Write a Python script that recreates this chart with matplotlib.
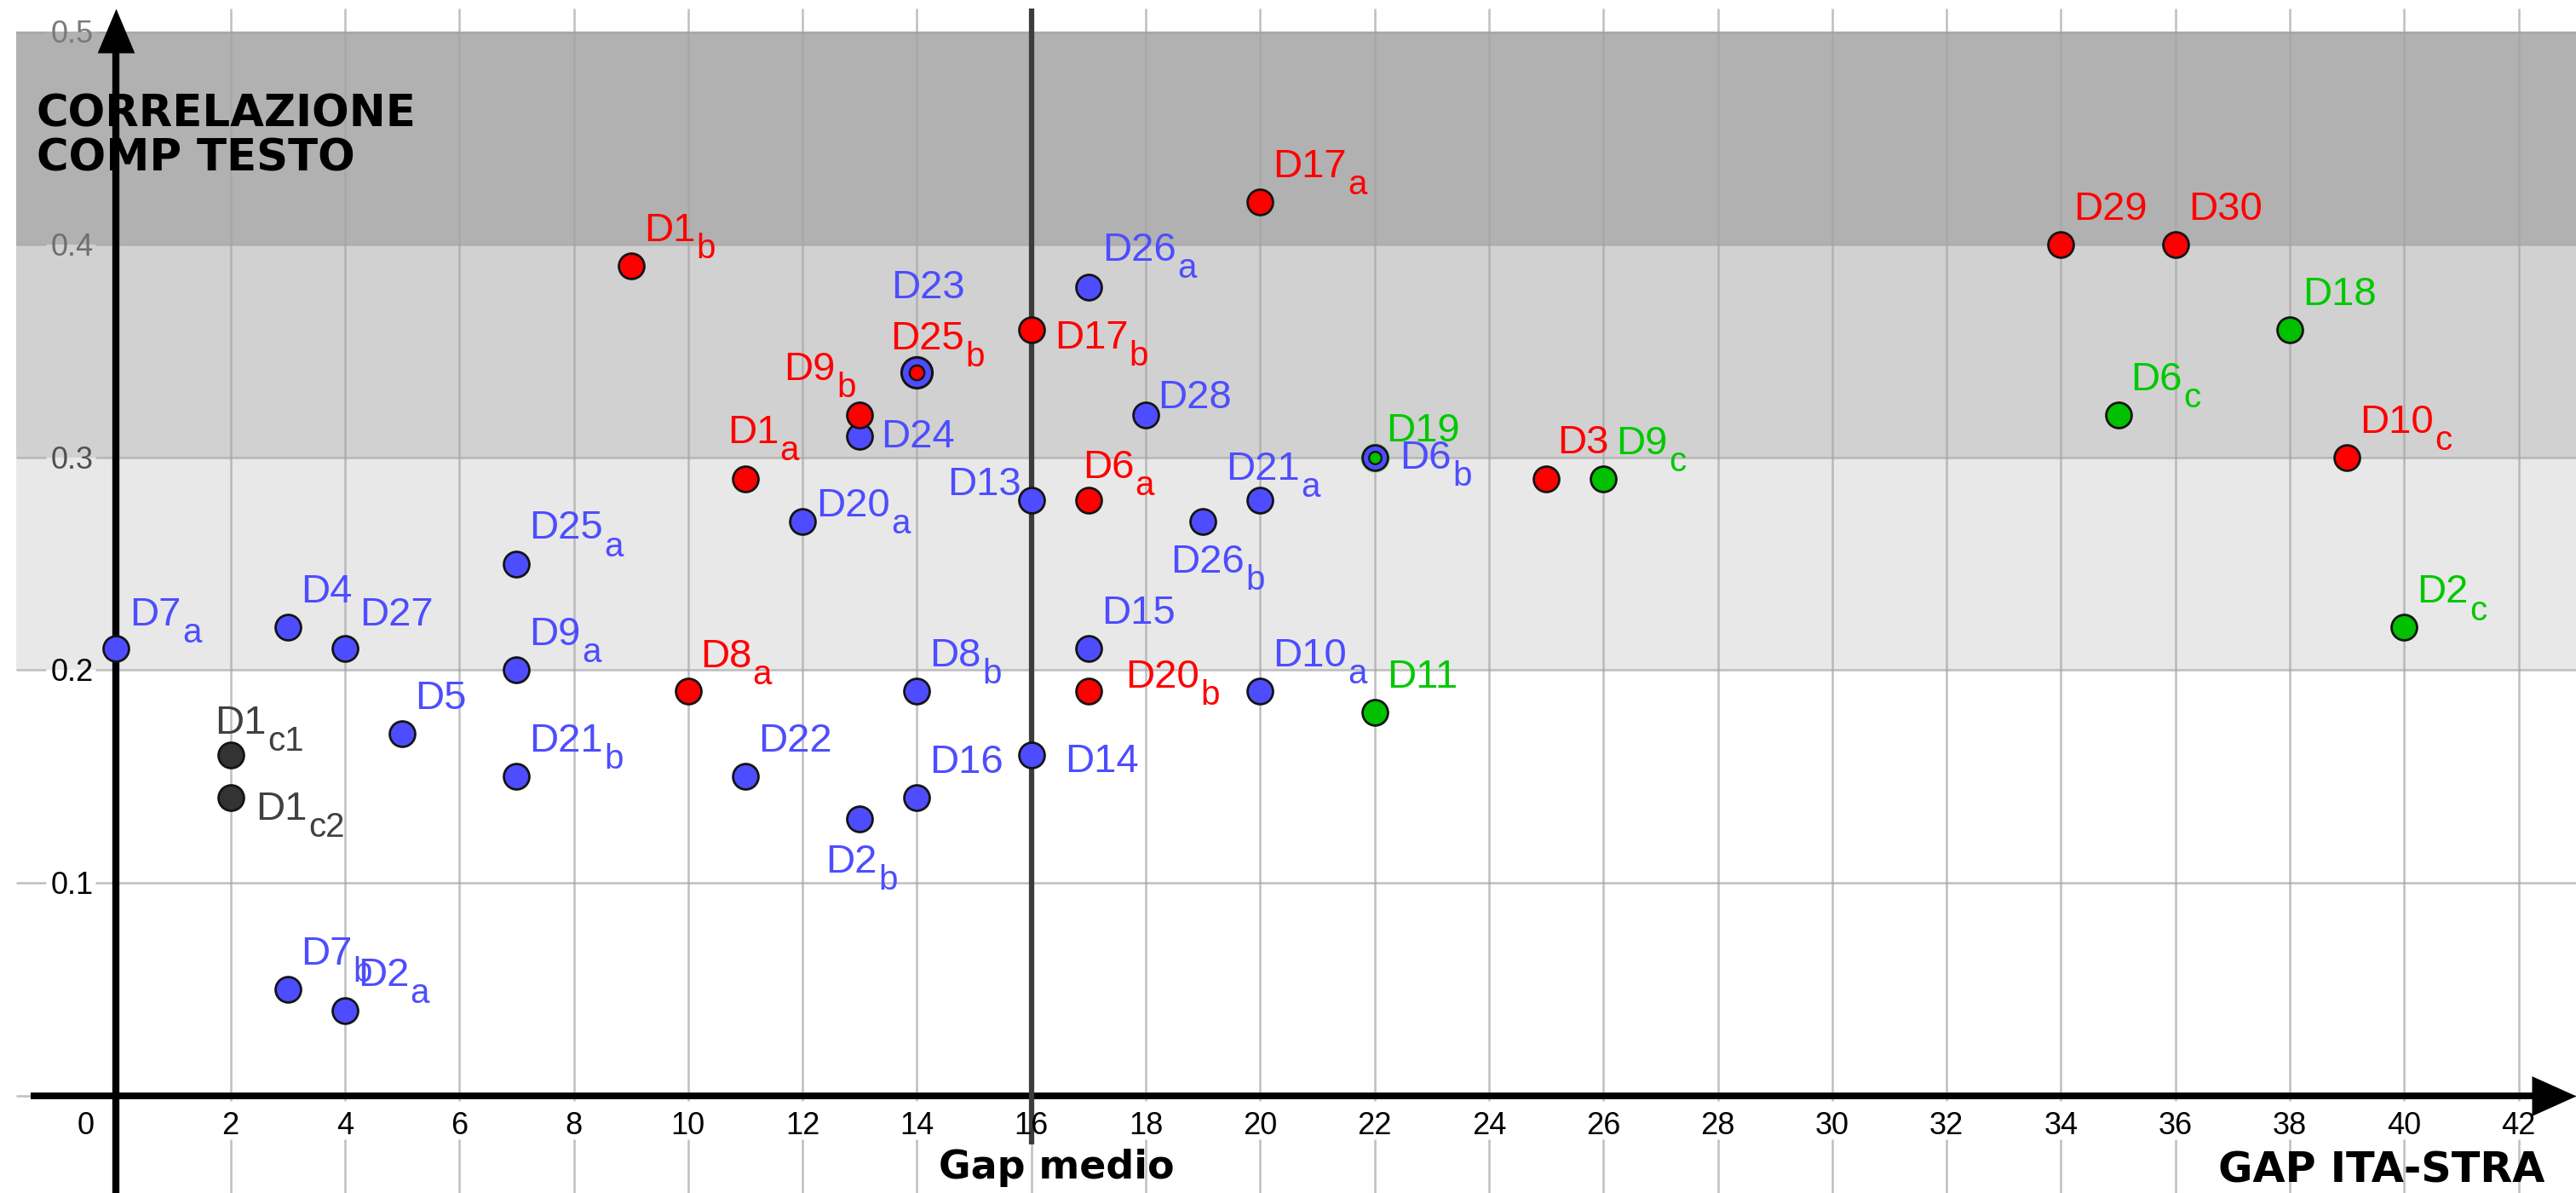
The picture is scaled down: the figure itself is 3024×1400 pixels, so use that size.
import matplotlib
matplotlib.use('Agg')
import matplotlib.pyplot as plt
import numpy as np
from matplotlib.path import Path
from matplotlib import font_manager

# ---------------- data ----------------
blue_labels = ['D7_a', 'D4', 'D27', 'D5', 'D25_a', 'D9_a', 'D21_b', 'D7_b', 'D2_a',
               'D20_a', 'D24', 'D23', 'D22', 'D2_b', 'D16', 'D8_b', 'D13', 'D14',
               'D15', 'D26_a', 'D28', 'D26_b', 'D21_a', 'D10_a', 'D6_b']
blue_x = [0, 3, 4, 5, 7, 7, 7, 3, 4, 12, 13, 14, 11, 13, 14, 14, 16, 16, 17, 17, 18, 19, 20, 20, 22]
blue_y = [0.21, 0.22, 0.21, 0.17, 0.25, 0.20, 0.15, 0.05, 0.04, 0.27, 0.31, 0.34, 0.15,
          0.13, 0.14, 0.19, 0.28, 0.16, 0.21, 0.38, 0.32, 0.27, 0.28, 0.19, 0.30]

red_labels = ['D1_b', 'D1_a', 'D8_a', 'D9_b', 'D25_b', 'D17_b', 'D17_a', 'D6_a', 'D20_b',
              'D3', 'D29', 'D30', 'D10_c']
red_x = [9, 11, 10, 13, 14, 16, 20, 17, 17, 25, 34, 36, 39]
red_y = [0.39, 0.29, 0.19, 0.32, 0.34, 0.36, 0.42, 0.28, 0.19, 0.29, 0.40, 0.40, 0.30]

green_labels = ['D19', 'D11', 'D9_c', 'D6_c', 'D18', 'D2_c']
green_x = [22, 22, 26, 35, 38, 40]
green_y = [0.30, 0.18, 0.29, 0.32, 0.36, 0.22]

gray_labels = ['D1_c1', 'D1_c2']
gray_x = [2, 2]
gray_y = [0.16, 0.14]

x_ticks = list(range(0, 43, 2))
y_ticks = [0.1, 0.2, 0.3, 0.4, 0.5]
band_bounds = [0.2, 0.3, 0.4, 0.5]
gap_medio_x = 16

title_lines = ['CORRELAZIONE', 'COMP TESTO']
xlabel_mid = 'Gap medio'
xlabel_right = 'GAP ITA-STRA'

# ---------------- fonts ----------------
def pick(fams):
    for f in fams:
        try:
            font_manager.findfont(font_manager.FontProperties(family=f), fallback_to_default=False)
            return f
        except Exception:
            pass
    return 'DejaVu Sans'

LABEL_FONT = pick(['Liberation Sans', 'Arial', 'DejaVu Sans'])
BOLD_FONT = 'DejaVu Sans'

# ---------------- geometry ----------------
W, H, DPI = 3024, 1400, 100
PT = 72.0 / DPI          # px -> pt
AX_LEFT_PX, AX_TOP_PX = 19, 10
X0_PX, PX_PER_X = 136.3, 67.15
Y0_PX, PX_PER_Y = 1285.5, 2496.0

fig = plt.figure(figsize=(W / DPI, H / DPI), dpi=DPI)
fig.patch.set_facecolor('white')
ax = fig.add_axes([AX_LEFT_PX / W, 0, 1 - AX_LEFT_PX / W, 1 - AX_TOP_PX / H])
xlim = ((AX_LEFT_PX - X0_PX) / PX_PER_X, (W - X0_PX) / PX_PER_X)
ylim = ((Y0_PX - H) / PX_PER_Y, (Y0_PX - AX_TOP_PX) / PX_PER_Y)
ax.set_xlim(xlim)
ax.set_ylim(ylim)
ax.axis('off')

# ---------------- bands ----------------
band_colors = ['#e8e8e8', '#d1d1d1', '#b1b1b1']
for lo, hi, c in zip(band_bounds[:-1], band_bounds[1:], band_colors):
    ax.axhspan(lo, hi, facecolor=c, edgecolor='none', lw=0, zorder=0.5)

# ---------------- grid (with gaps behind tick labels) ----------------
grid_kw = dict(colors=[(0.645, 0.645, 0.645)], alpha=0.7, linewidth=1.8, zorder=1)
xgap_lo, xgap_hi = -0.0208, -0.0025
for xv in x_ticks:
    if xv == 0:
        continue
    ax.vlines(xv, ylim[0], xgap_lo, **grid_kw)
    ax.vlines(xv, xgap_hi, ylim[1], **grid_kw)
ygap_lo, ygap_hi = -1.23, -0.36
ax.hlines(0, xlim[0], xlim[1], **grid_kw)
for yv in y_ticks:
    ax.hlines(yv, xlim[0], ygap_lo, **grid_kw)
    ax.hlines(yv, ygap_hi, xlim[1], **grid_kw)

# ---------------- axes with arrows ----------------
head_len_px = 52
head_len_x = head_len_px / PX_PER_X
head_len_y = head_len_px / PX_PER_Y
arrow_ms = head_len_px * PT * 2
right_arrow = Path([(0, 0), (-1, 0.45), (-1, -0.45), (0, 0)],
                   [Path.MOVETO, Path.LINETO, Path.LINETO, Path.CLOSEPOLY])
up_arrow = Path([(0, 0), (0.42, -1), (-0.42, -1), (0, 0)],
                [Path.MOVETO, Path.LINETO, Path.LINETO, Path.CLOSEPOLY])

xaxis_start = (36 - X0_PX) / PX_PER_X
ax.plot([xaxis_start, xlim[1] - head_len_x * 0.9], [0, 0], color='black', lw=5.6,
        solid_capstyle='butt', zorder=2)
ax.plot([xlim[1]], [0], marker=right_arrow, ms=arrow_ms, color='black', mew=0,
        clip_on=False, zorder=2)
ax.plot([0, 0], [ylim[0], ylim[1] - head_len_y * 0.9], color='black', lw=6.0,
        solid_capstyle='butt', zorder=2)
ax.plot([0], [ylim[1]], marker=up_arrow, ms=arrow_ms, color='black', mew=0,
        clip_on=False, zorder=2)

# vertical "Gap medio" line
ax.plot([gap_medio_x, gap_medio_x], [-0.023, ylim[1]], color='#3c3c3c', lw=4.5,
        solid_capstyle='butt', zorder=2.5)

# ---------------- tick labels ----------------
tick_fs = 26
x_base = -0.0181
for xv in x_ticks:
    xpos = -0.53 if xv == 0 else xv
    ax.text(xpos, x_base, str(xv), ha='center', va='baseline', fontsize=tick_fs,
            family=LABEL_FONT, color='black', zorder=6)
ytick_colors = {0.1: 'black', 0.2: 'black', 0.3: '#505050', 0.4: '#6e6e6e', 0.5: '#7a7a7a'}
for yv in y_ticks:
    ax.text(-0.40, yv - 13 / PX_PER_Y, f'{yv:.1f}', ha='right', va='baseline',
            fontsize=tick_fs, family=LABEL_FONT, color=ytick_colors[yv], zorder=6)

# ---------------- axis titles ----------------
ax.text(-1.39, 0.4555, title_lines[0], ha='left', va='baseline', fontsize=37,
        fontweight='bold', family=BOLD_FONT, color='black', zorder=7)
ax.text(-1.39, 0.4347, title_lines[1], ha='left', va='baseline', fontsize=37,
        fontweight='bold', family=BOLD_FONT, color='black', zorder=7)
ax.text(16.44, -0.039, xlabel_mid, ha='center', va='baseline', fontsize=33,
        fontweight='bold', family=BOLD_FONT, color='black', zorder=7)
ax.text(39.61, -0.041, xlabel_right, ha='center', va='baseline', fontsize=35.5,
        fontweight='bold', family=BOLD_FONT, color='black', zorder=7)

# ---------------- points ----------------
MS, MEW, EDGE = 21.5, 2.0, '#141414'
inner_style = {'D25_b': dict(ms=12.5, mew=1.8), 'D19': dict(ms=10.5, mew=1.6)}
outer_style = {'D23': dict(ms=26, mew=2.2)}
halo = {'D6_b': '#7fe07f'}

groups = [
    (blue_labels, blue_x, blue_y, '#4d4dff', '#4d4dff'),
    (red_labels, red_x, red_y, '#ff0000', '#ff0000'),
    (green_labels, green_x, green_y, '#00c000', '#00c800'),
    (gray_labels, gray_x, gray_y, '#333333', '#404040'),
]

for labels, xs, ys, fc, tc in groups:
    for name, xv, yv in zip(labels, xs, ys):
        if name in halo:
            ax.plot([xv], [yv], 'o', ms=MS + 4, mfc=halo[name], mec='none', alpha=0.45,
                    zorder=2.9)
        if name in inner_style:
            st = inner_style[name]
            ax.plot([xv], [yv], 'o', ms=st['ms'], mfc=fc, mec=EDGE, mew=st['mew'], zorder=3.5)
        else:
            st = outer_style.get(name, dict(ms=MS, mew=MEW))
            ax.plot([xv], [yv], 'o', ms=st['ms'], mfc=fc, mec=EDGE, mew=st['mew'], zorder=3)

# ---------------- point labels ----------------
LABEL_FS, SUB_FS = 34, 29
SUB_DY = -7.3
DEFAULT_OFF = (15, 29, 'left')
label_offsets = {
    'D7_a': (16, 27, 'left'), 'D27': (17, 27, 'left'),
    'D1_c1': (-18, 25, 'left'), 'D1_c2': (30, -26, 'left'),
    'D8_a': (14, 28, 'left'), 'D1_a': (-21, 42, 'left'), 'D20_a': (16, 6, 'left'),
    'D9_b': (-89, 41, 'left'), 'D23': (-30, 87, 'left'), 'D25_b': (-31, 27, 'left'),
    'D24': (25, -13, 'left'), 'D17_b': (27, -22, 'left'), 'D28': (14, 8, 'left'),
    'D13': (-12, 6, 'right'), 'D6_a': (-7, 26, 'left'), 'D21_a': (-40, 24, 'left'),
    'D26_b': (-38, -60, 'left'), 'D19': (14, 19, 'left'), 'D6_b': (30, -13, 'left'),
    'D20_b': (43, 4, 'left'), 'D14': (39, -20, 'left'), 'D2_b': (-40, -63, 'left'),
    'D3': (13, 30, 'left'), 'D26_a': (16, 31, 'left'),
}

for labels, xs, ys, fc, tc in groups:
    for name, xv, yv in zip(labels, xs, ys):
        base, _, sub = name.partition('_')
        dx, dy, ha = label_offsets.get(name, DEFAULT_OFF)
        t = ax.annotate(base, xy=(xv, yv), xytext=(dx * PT, dy * PT),
                        textcoords='offset points', ha=ha, va='baseline',
                        fontsize=LABEL_FS, color=tc, family=LABEL_FONT, zorder=5,
                        annotation_clip=False)
        if sub:
            ax.annotate(sub, xy=(1, 0), xycoords=t, xytext=(1.0, SUB_DY),
                        textcoords='offset points', ha='left', va='baseline',
                        fontsize=SUB_FS, color=tc, family=LABEL_FONT, zorder=5,
                        annotation_clip=False)

fig.savefig('out.png', dpi=DPI, facecolor='white')
